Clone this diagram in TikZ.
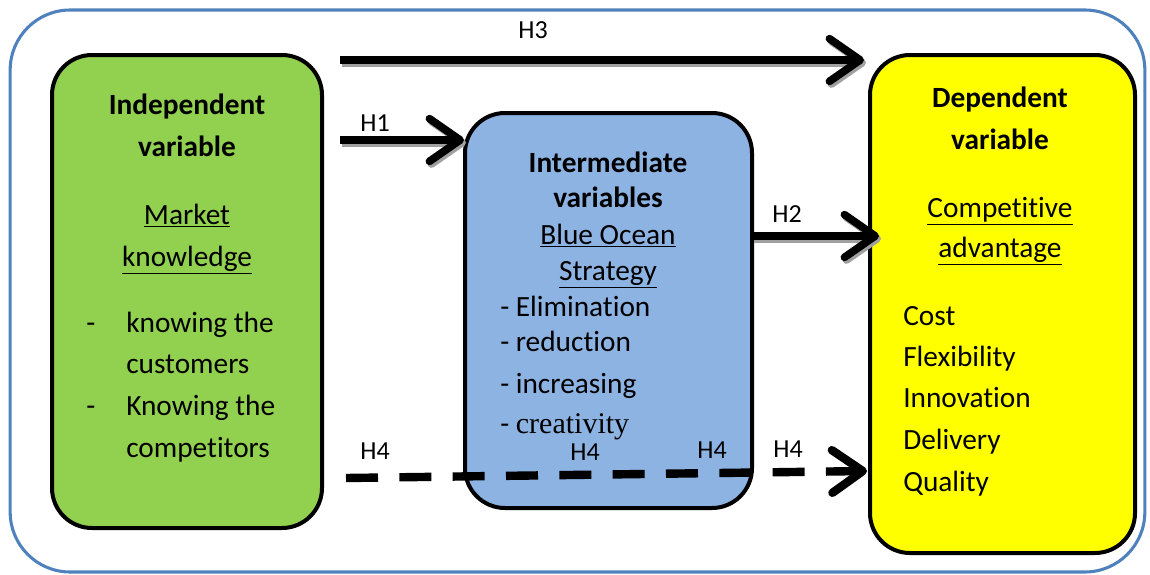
\documentclass[tikz,border=0pt]{standalone}
\usepackage{fontspec}
\setmainfont{Carlito}[Ligatures=NoCommon]
\newfontfamily\seriffnt{Liberation Serif}
\usetikzlibrary{arrows.meta}
\definecolor{outerblue}{RGB}{79,129,189}
\definecolor{boxgreen}{RGB}{146,208,80}
\definecolor{boxblue}{RGB}{141,179,226}
\definecolor{boxyellow}{RGB}{255,255,0}
\definecolor{shadowgray}{RGB}{160,160,160}
\begin{document}
\begin{tikzpicture}[x=0.75pt,y=-0.75pt,
  box/.style={draw=black, line width=3pt, rounded corners=30pt, inner sep=0pt},
  txt/.style={font=\fontsize{22}{26}\selectfont, inner sep=0pt, anchor=mid},
  btxt/.style={txt, font=\fontsize{22}{26}\selectfont\bfseries},
  ltxt/.style={txt, anchor=mid west},
  hlab/.style={font=\fontsize{19.5}{22}\selectfont, inner sep=0pt, anchor=mid},
  arr/.style={line width=5.8pt, -{Straight Barb[length=23pt,width=32pt,line cap=round,line join=round]}},
  shadowc/.style={draw=shadowgray, transform canvas={shift={(1.5pt,-2pt)}}},
  dashpat/.style={dash pattern=on 24pt off 16pt}
]
\useasboundingbox (0,0) rectangle (1150,575);
% outer frame
\node[draw=outerblue, line width=2.3pt, rounded corners=45pt, minimum width=851pt, minimum height=421.5pt, inner sep=0pt] (frame) at (577.5,291) {};
% boxes
\node[box, fill=boxgreen, minimum width=202.5pt, minimum height=354.75pt] (green) at (187,291.5) {};
\node[box, fill=boxblue, minimum width=215.25pt, minimum height=296.25pt] (blue) at (608.5,310.5) {};
\node[box, fill=boxyellow, minimum width=198.75pt, minimum height=373.5pt] (yellow) at (1002.5,304) {};

% green texts
\node[btxt] (g1) at (187,111) {Independent};
\node[btxt] (g2) at (187,153) {variable};
\node[txt] (g3) at (187,221) {\underline{Market}};
\node[txt] (g4) at (187,263) {\underline{knowledge}};
\node[ltxt] (gd1) at (86,329) {-};
\node[ltxt] (g5) at (126,329) {knowing the};
\node[ltxt] (g6) at (126,370) {customers};
\node[ltxt] (gd2) at (86,412) {-};
\node[ltxt] (g7) at (126,412) {Knowing the};
\node[ltxt] (g8) at (126,454) {competitors};

% blue texts
\node[btxt] (b1) at (608,169) {Intermediate};
\node[btxt] (b2) at (608,204) {variables};
\node[txt] (b3) at (608,241) {\underline{Blue Ocean}};
\node[txt] (b4) at (608,277) {\underline{Strategy}};
\node[ltxt] (b5) at (500,313) {- Elimination};
\node[ltxt] (b6) at (500,348) {- reduction};
\node[ltxt] (b7) at (500,390) {- increasing};
\node[ltxt, font=\fontsize{22}{26}\selectfont] (b8) at (500,430) {- {\seriffnt\fontsize{22.5}{26}\selectfont creativity}};

% yellow texts
\node[btxt] (y1) at (1000,104) {Dependent};
\node[btxt] (y2) at (1000,146) {variable};
\node[txt] (y3) at (1000,214) {\underline{Competitive}};
\node[txt] (y4) at (1000,254) {\underline{advantage}};
\node[ltxt] (y5) at (903,322) {Cost};
\node[ltxt] (y6) at (903,363) {Flexibility};
\node[ltxt] (y7) at (903,404) {Innovation};
\node[ltxt] (y8) at (903,446) {Delivery};
\node[ltxt] (y9) at (903,488) {Quality};

% arrow end points
\coordinate (h3s) at (340,60);
\coordinate (h3e) at (864,60);
\coordinate (h1s) at (340,140);
\coordinate (h1e) at (464,140);
\coordinate (h2s) at (752,236);
\coordinate (h2e) at (879,236);
\coordinate (h4s) at (346,478);
\coordinate (h4e) at (867,471);

% shadows
\draw[arr, shadowc] (h3s) -- (h3e);
\draw[arr, shadowc] (h1s) -- (h1e);
\draw[arr, shadowc] (h2s) -- (h2e);
% arrows
\draw[arr] (h3s) -- (h3e);
\draw[arr] (h1s) -- (h1e);
\draw[arr] (h2s) -- (h2e);
\draw[arr, line width=6.3pt, dashpat] (h4s) -- (h4e);

% labels
\node[hlab] (l3) at (533,35) {H3};
\node[hlab] (l1) at (375,128) {H1};
\node[hlab] (l2) at (787,219) {H2};
\node[hlab] (l4a) at (375,456) {H4};
\node[hlab] (l4b) at (585,457) {H4};
\node[hlab] (l4c) at (712,455) {H4};
\node[hlab] (l4d) at (788,454) {H4};
\end{tikzpicture}
\end{document}
